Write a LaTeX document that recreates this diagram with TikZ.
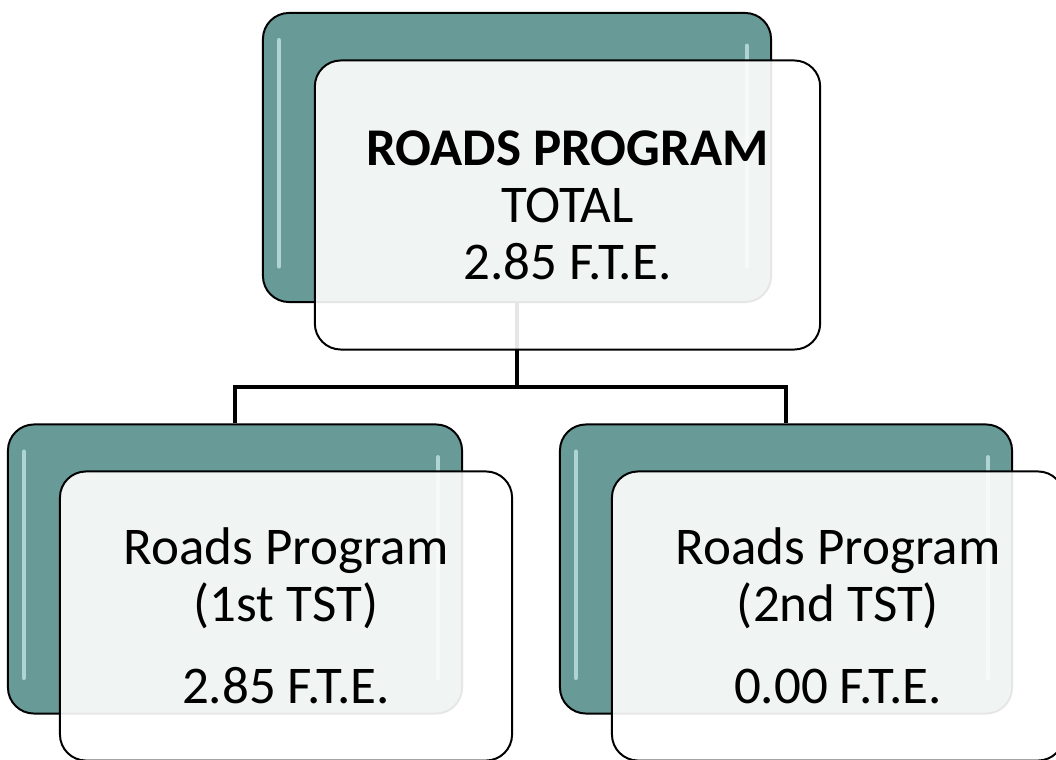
\documentclass[tikz,border=0pt]{standalone}
\usepackage{fontspec}
\setmainfont{Carlito}
\usepackage{xcolor}
\usepackage{tikz}
\usetikzlibrary{positioning, arrows.meta}
\definecolor{tealBack}{HTML}{689A98}
\definecolor{tealGlow}{HTML}{CDEFEE}
\tikzset{
  backbox/.style={draw=black, line width=1.4pt, rounded corners=0.65cm, fill=tealBack,
    minimum height=7.225cm, inner sep=0pt},
  frontbox/.style={draw=black, line width=1.4pt, rounded corners=0.65cm, fill=white,
    fill opacity=0.9, text opacity=1, minimum height=7.225cm, inner sep=0pt,
    align=center, font=\fontsize{37.7}{40.5}\selectfont},
  glow/.style={tealGlow, line width=3pt, line cap=round, opacity=0.7},
  link/.style={line width=2.5pt, black}
}

\begin{document}
\begin{tikzpicture}[x=0.025cm, y=-0.025cm]
  \useasboundingbox (0,0) rectangle (1056,760);
  \clip (0,0) rectangle (1056,760);

  % back cards
  \node[backbox, minimum width=12.7cm]   (topBack)   at (517,157.5) {};
  \node[backbox, minimum width=11.35cm]  (leftBack)  at (235,569) {};
  \node[backbox, minimum width=11.3cm]   (rightBack) at (786,569) {};
  \foreach \n in {topBack, leftBack, rightBack} {
    \draw[glow] ([xshift=12,yshift=-20]\n.north west) -- ([xshift=12,yshift=26]\n.south west);
    \draw[glow] ([xshift=-18,yshift=-24]\n.north east) -- ([xshift=-18,yshift=26]\n.south east);
  }

  % connectors
  \coordinate (fork) at (517,387);
  \draw[link] (topBack.south) -- (fork) -| (leftBack.north);
  \draw[link] (fork) -| (rightBack.north);

  % front cards
  \node[frontbox, minimum width=12.63cm] (topCard) at (567.5,205)
    {\textbf{ROADS PROGRAM}\\TOTAL\\2.85 F.T.E.};
  \node[frontbox, minimum width=11.3cm] (leftCard) at (286,616)
    {Roads Program\\(1st TST)\\[18pt]2.85 F.T.E.};
  \node[frontbox, minimum width=11.3cm] (rightCard) at (838,616)
    {Roads Program\\(2nd TST)\\[18pt]0.00 F.T.E.};
\end{tikzpicture}
\end{document}
